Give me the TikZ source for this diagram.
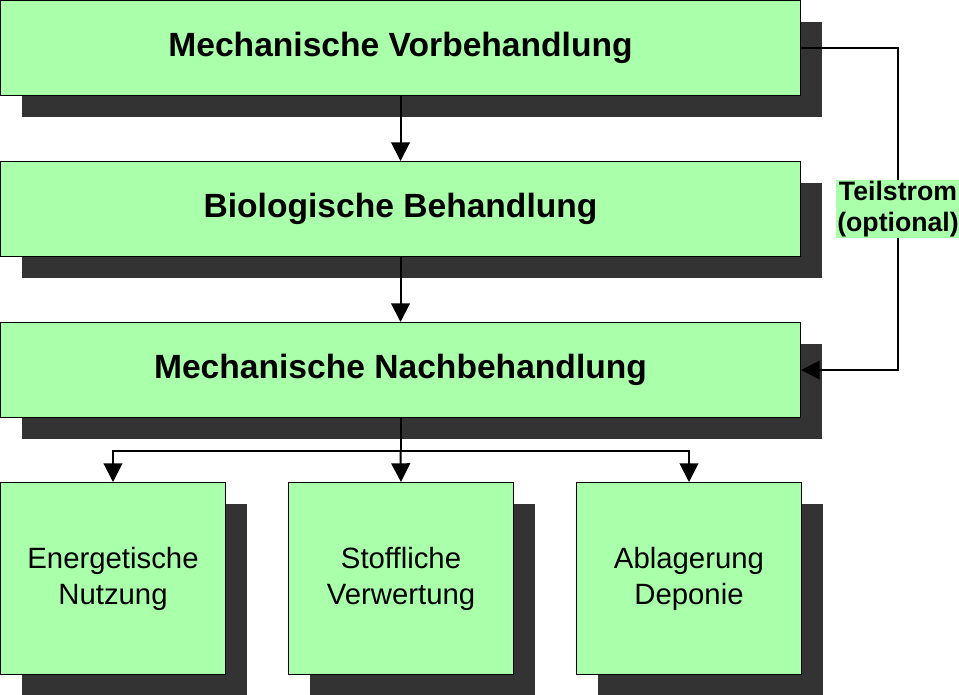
\documentclass[tikz,border=0pt]{standalone}
\usepackage{fontspec}
\setmainfont{Liberation Sans}
\usetikzlibrary{arrows.meta,positioning,shadows}
\definecolor{hellgruen}{RGB}{170,255,170}
\definecolor{schatten}{RGB}{51,51,51}

\begin{document}
\begin{tikzpicture}[
		x=0.75pt,y=-0.75pt,
		box/.style={draw,line width=0.75pt,fill=hellgruen,rectangle,align=center,inner sep=0pt,
			drop shadow={shadow xshift=15.75pt,shadow yshift=-15.75pt,fill=schatten,opacity=1}},
		stufe/.style={box,minimum width=600pt,minimum height=71.25pt,font=\bfseries\fontsize{25.2}{29}\selectfont},
		ziel/.style={box,minimum width=168.75pt,minimum height=144pt,font=\fontsize{22}{27}\selectfont},
		hinweis/.style={fill=hellgruen,align=center,inner sep=1pt,font=\bfseries\fontsize{20}{23}\selectfont},
		linie/.style={line width=1.5pt},
		pfeil/.style={line width=1.5pt,-{Triangle[width=14pt,length=14pt]}}]
		\useasboundingbox (0,0) rectangle (959,694);
		\node (vor) [stufe,anchor=north west] at (0,0) {Mechanische Vorbehandlung};
		\node (bio) [stufe,below=48.75pt of vor] {Biologische Behandlung};
		\node (nach) [stufe,below=48.75pt of bio] {Mechanische Nachbehandlung};
		\node (energie) [ziel,below=48pt of nach.south west,anchor=north west] {Energetische\\Nutzung};
		\node (stoff) [ziel,right=46.5pt of energie] {Stoffliche\\Verwertung};
		\node (deponie) [ziel,right=46.5pt of stoff] {Ablagerung\\Deponie};
		\draw [pfeil] (vor) -- (bio);
		\draw [pfeil] (bio) -- (nach);
		\path (vor.east) ++(72.75pt,0pt) coordinate (knick);
		\draw [pfeil] (vor.east) -- (knick) |- (nach.east);
		\node (teil) [hinweis] at (knick |- bio) {Teilstrom\\(optional)};
		\draw [linie] (nach.south) -- ++(0pt,-24.75pt) coordinate (verteiler);
		\draw [pfeil] (verteiler) -| (energie.north);
		\draw [pfeil] (verteiler) -- (stoff.north);
		\draw [pfeil] (verteiler) -| (deponie.north);
	\end{tikzpicture}
\end{document}
